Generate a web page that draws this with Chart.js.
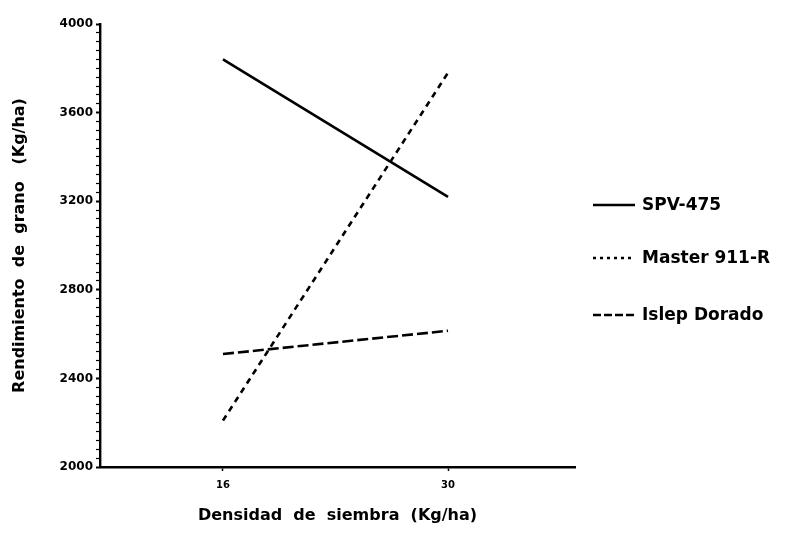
<!DOCTYPE html>
<html>
<head>
<meta charset="utf-8">
<script src="https://cdn.jsdelivr.net/npm/chart.js@4/dist/chart.umd.min.js"></script>
<style>
  html, body { margin: 0; padding: 0; background: #fff; }
  #wrap { width: 794px; height: 540px; }
</style>
</head>
<body>
<div id="wrap"><canvas id="c" width="794" height="540"></canvas></div>
<script>
// ---- data ----
const densities = [16, 30];
const seriesNames = ['SPV-475', 'Master 911-R', 'Islep Dorado'];
const spv475 = [3840, 3220];
const master911R = [2210, 3780];
const islepDorado = [2510, 2615];
const yMajorTicks = [2000, 2400, 2800, 3200, 3600, 4000];
const xTickLabels = ['16', '30'];
const yTitle = 'Rendimiento  de  grano   (Kg/ha)';
const xTitle = 'Densidad  de  siembra  (Kg/ha)';

const FONT = '"DejaVu Sans", Verdana, sans-serif';
const allSeries = [spv475, master911R, islepDorado];
const dashes = [[], [6, 5], [11, 4]];

function pts(vals) { return densities.map((d, i) => ({ x: d, y: vals[i] })); }

// legend drawn on the right from the chart's own datasets
const sideLegend = {
  id: 'sideLegend',
  afterDraw(chart) {
    const ctx = chart.ctx;
    const rows = [205, 258, 315];
    ctx.save();
    chart.data.datasets.forEach((ds, i) => {
      const y = rows[i];
      ctx.beginPath();
      ctx.strokeStyle = ds.borderColor;
      ctx.lineWidth = 2.4;
      ctx.setLineDash(i === 1 ? [3, 4] : (i === 2 ? [8, 3] : []));
      ctx.moveTo(593, y);
      ctx.lineTo(635, y);
      ctx.stroke();
      ctx.setLineDash([]);
      ctx.fillStyle = '#000';
      ctx.font = 'bold 17px ' + FONT;
      ctx.textBaseline = 'middle';
      ctx.textAlign = 'left';
      ctx.fillText(ds.label, 642, y + 1);
    });
    ctx.restore();
  }
};

new Chart(document.getElementById('c'), {
  type: 'line',
  data: {
    datasets: allSeries.map((vals, i) => ({
      label: seriesNames[i],
      data: pts(vals),
      borderColor: '#000',
      backgroundColor: '#000',
      borderWidth: 2.6,
      borderDash: dashes[i],
      pointRadius: 0,
      tension: 0,
      fill: false
    }))
  },
  plugins: [sideLegend],
  options: {
    responsive: false,
    animation: false,
    devicePixelRatio: 1,
    layout: { padding: { left: 4, top: 24, right: 219, bottom: 5 } },
    plugins: {
      tooltip: { enabled: false },
      legend: { display: false }
    },
    scales: {
      x: {
        type: 'linear',
        min: 8.35,
        max: 37.9,
        afterBuildTicks: (scale) => { scale.ticks = densities.map(v => ({ value: v })); },
        afterFit: (scale) => { scale.height = 540 - 467 - 5; },
        ticks: {
          color: '#000',
          font: { family: FONT, size: 10, weight: 'bold' },
          callback: (v) => { const i = densities.indexOf(v); return i >= 0 ? xTickLabels[i] : ''; },
          padding: 8
        },
        grid: { drawOnChartArea: false, drawTicks: true, tickLength: 4, tickColor: '#000', tickWidth: 1.5 },
        border: { color: '#000', width: 2.4 },
        title: {
          display: true,
          text: xTitle,
          color: '#000',
          font: { family: FONT, size: 16, weight: 'bold' },
          padding: { top: 0, bottom: 10 }
        }
      },
      y: {
        min: 2000,
        max: 4000,
        afterBuildTicks: (scale) => {
          const t = [];
          for (let v = 2000; v <= 4000; v += 40) t.push({ value: v });
          scale.ticks = t;
        },
        afterFit: (scale) => { scale.width = 100 - 4; },
        ticks: {
          autoSkip: false,
          color: '#000',
          font: { family: FONT, size: 12, weight: 'bold' },
          padding: 3,
          callback: (v) => yMajorTicks.includes(v) ? String(v) : ''
        },
        grid: {
          drawOnChartArea: false,
          drawTicks: true,
          tickLength: 4,
          tickColor: '#000',
          tickWidth: (ctx) => yMajorTicks.includes(ctx.tick && ctx.tick.value) ? 2 : 1.2
        },
        border: { color: '#000', width: 2.4 },
        title: {
          display: true,
          text: yTitle,
          color: '#000',
          font: { family: FONT, size: 16, weight: 'bold' },
          padding: { top: 6, bottom: 0 }
        }
      }
    }
  }
});
</script>
</body>
</html>
